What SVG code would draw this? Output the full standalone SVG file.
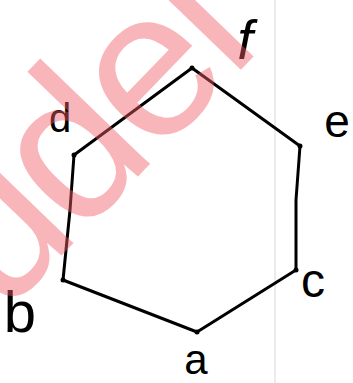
<svg xmlns="http://www.w3.org/2000/svg" width="353" height="383" viewBox="0 0 353 383">
<style>
.edge{stroke:#000;stroke-width:3;fill:none;stroke-linecap:round;stroke-linejoin:round}
.lbl{font-family:"Liberation Sans","DejaVu Sans",sans-serif;fill:#000;text-anchor:middle}
.wm{font-family:"Liberation Sans",Arial,sans-serif;font-size:210px;fill:#f25d66;fill-opacity:0.45;letter-spacing:-7px}
.vdot{fill:#000}
</style>
<rect width="353" height="383" fill="#ffffff"/>
<line x1="275" y1="0" x2="275" y2="383" stroke="#d8d8d8" stroke-width="1"/>
<g id="connectors">
<line class="edge" x1="192" y1="68" x2="300" y2="146"/>
<polyline class="edge" points="300,146 296,200 296,270"/>
<line class="edge" x1="296" y1="270" x2="197" y2="332"/>
<line class="edge" x1="197" y1="332" x2="63" y2="280"/>
<polyline class="edge" points="63,280 70,210 74,155"/>
<line class="edge" x1="74" y1="155" x2="192" y2="68"/>
</g>
<g id="node-f"><circle class="vdot" cx="192" cy="68" r="2.5"/><text class="lbl" x="245" y="59" font-size="56" font-style="italic" font-family="Liberation Serif, serif">f</text></g>
<g id="node-e"><circle class="vdot" cx="300" cy="146" r="2.5"/><text class="lbl" x="337" y="137" font-size="46">e</text></g>
<g id="node-c"><circle class="vdot" cx="296" cy="270" r="2.5"/><text class="lbl" x="313" y="297" font-size="48">c</text></g>
<g id="node-a"><circle class="vdot" cx="197" cy="332" r="2.5"/><text class="lbl" x="196" y="374" font-size="42">a</text></g>
<g id="node-b"><circle class="vdot" cx="63" cy="280" r="2.5"/><text class="lbl" x="20" y="332" font-size="58">b</text></g>
<g id="node-d"><circle class="vdot" cx="74" cy="155" r="2.5"/><text class="lbl" x="60" y="132" font-size="40">d</text></g>
<g id="watermark">
<text class="wm" transform="translate(2.3,316.9) rotate(-46)">udel</text>
</g>
</svg>
